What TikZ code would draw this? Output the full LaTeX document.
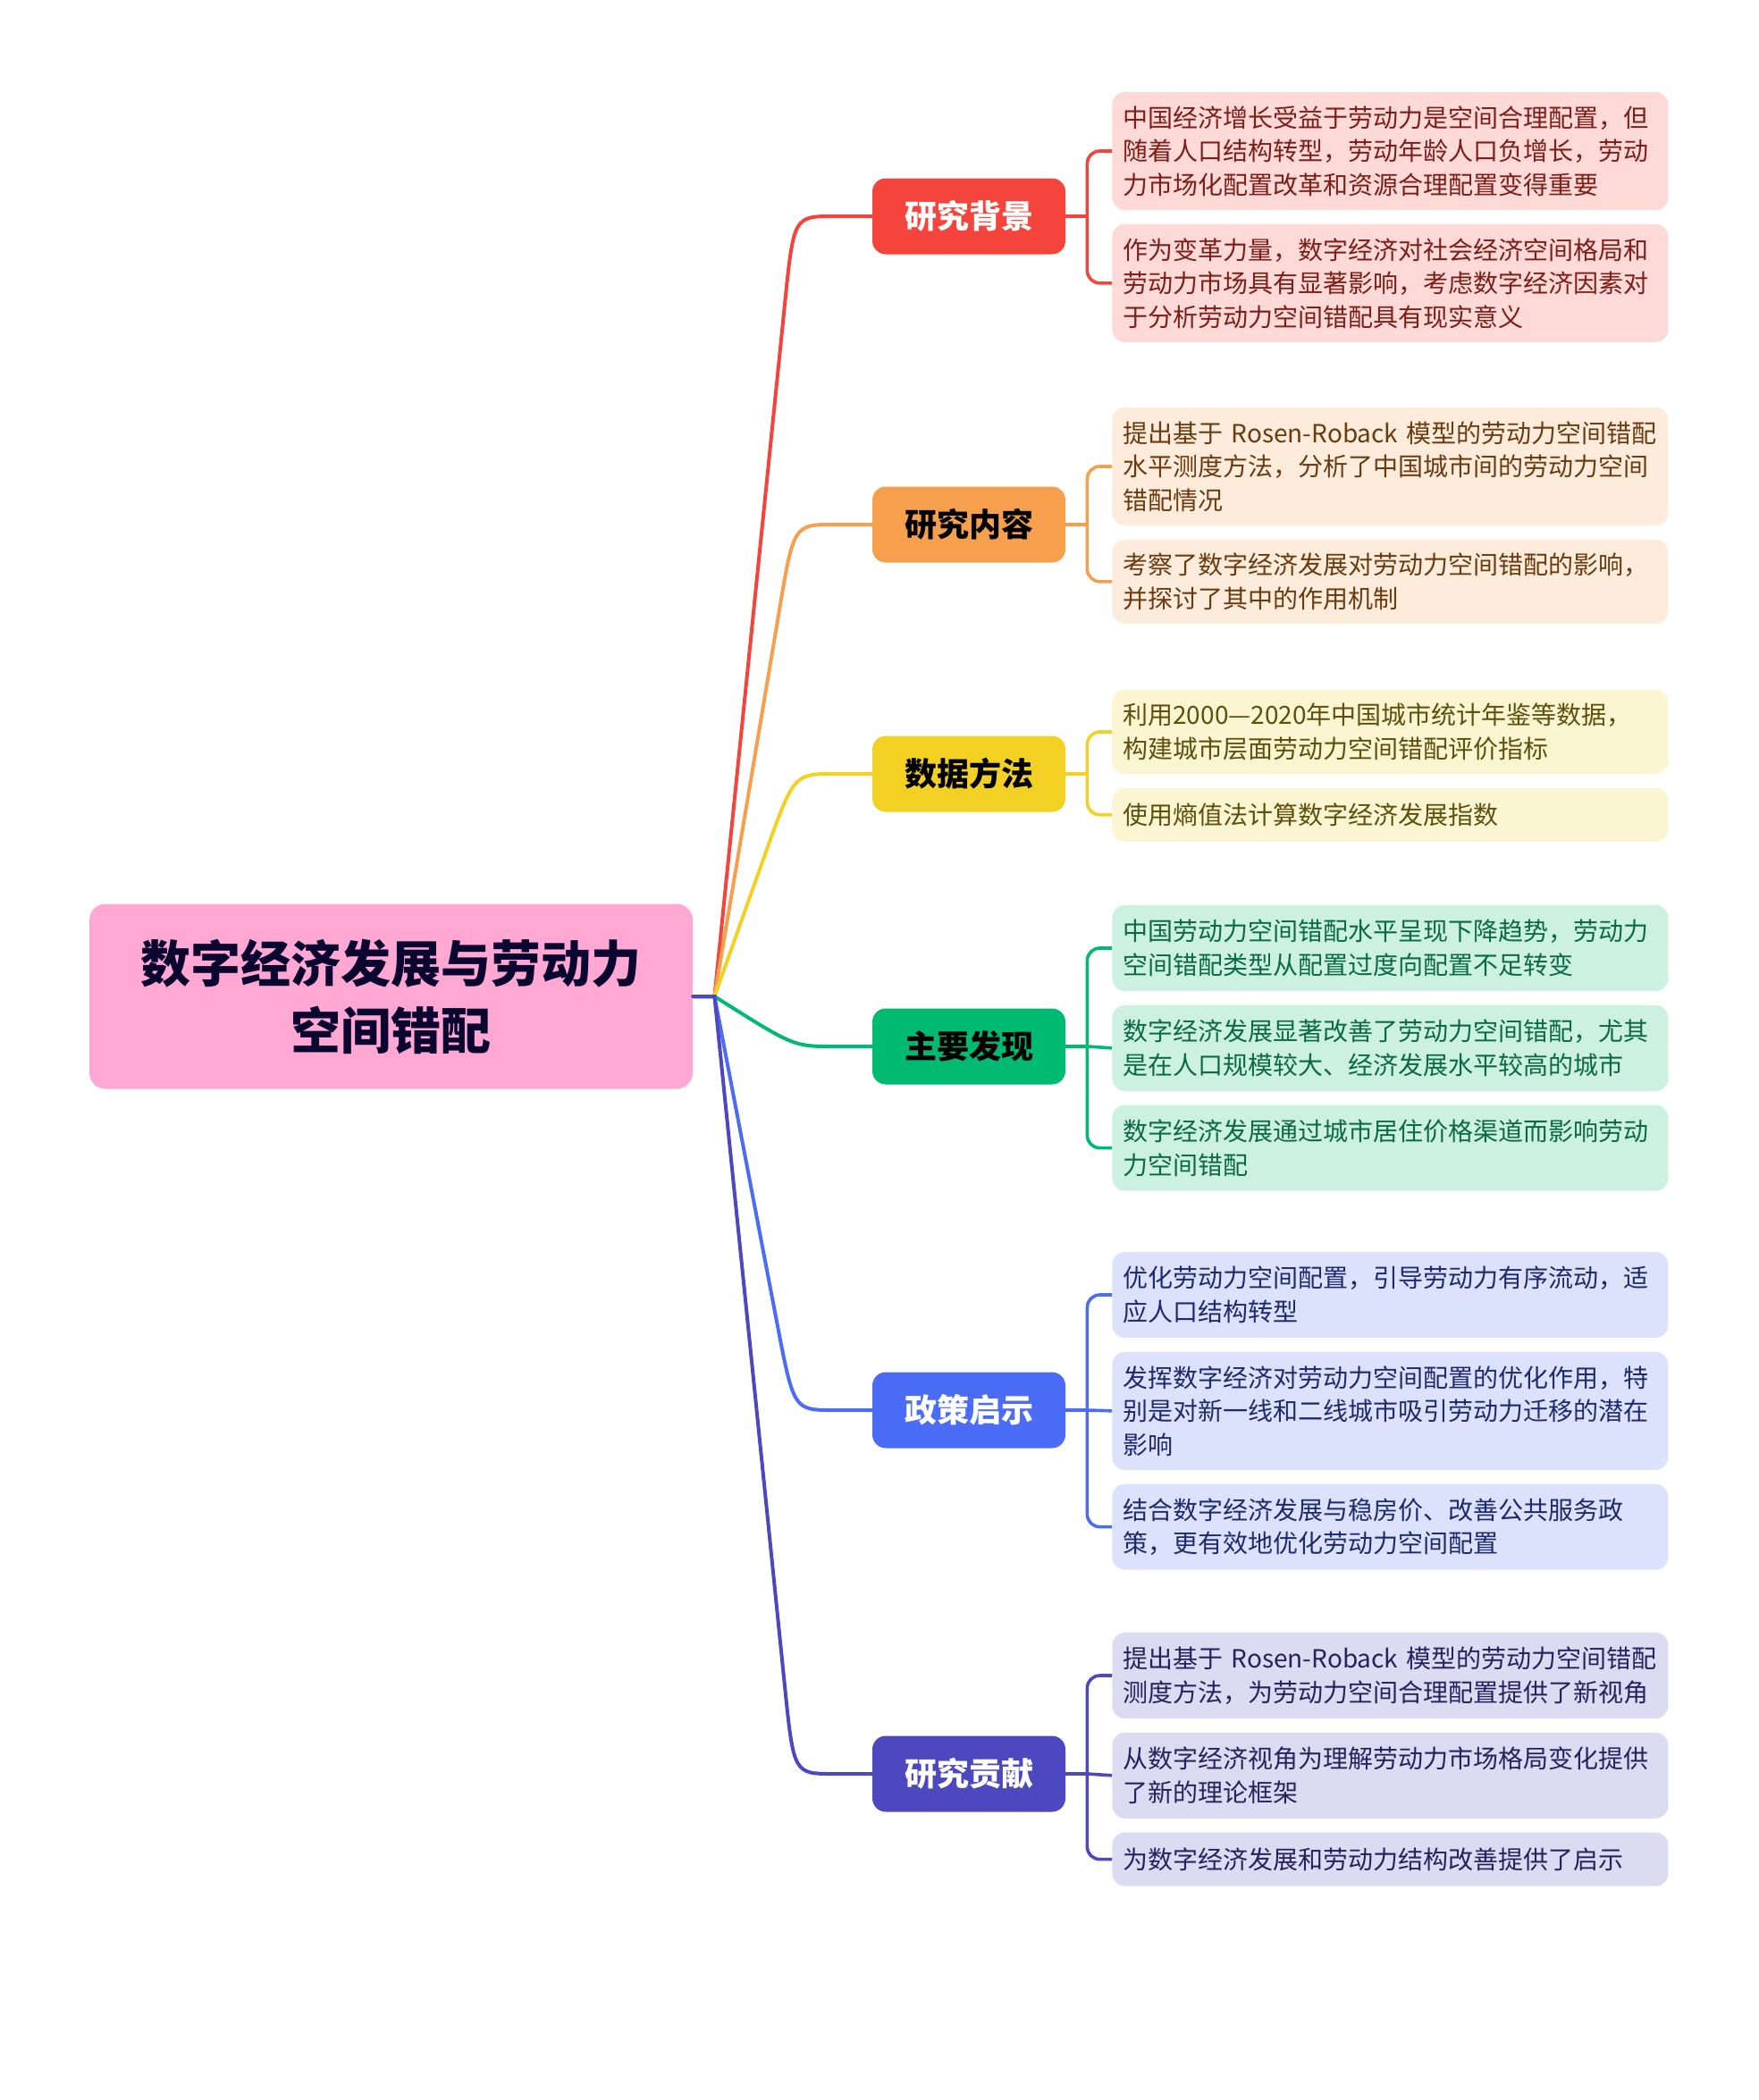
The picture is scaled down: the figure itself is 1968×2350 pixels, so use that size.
\documentclass[tikz,border=0pt]{standalone}
\usepackage{fontspec}
\setmainfont{Noto Sans CJK SC}
\usetikzlibrary{positioning, calc}
\definecolor{cRoot}{RGB}{255,168,211}
\definecolor{cRootText}{RGB}{11,6,48}
\definecolor{cRed}{RGB}{245,68,59}
\definecolor{cRedLeaf}{RGB}{253,217,215}
\definecolor{cRedText}{RGB}{125,30,24}
\definecolor{cOrange}{RGB}{246,160,77}
\definecolor{cOrangeLeaf}{RGB}{253,235,220}
\definecolor{cOrangeText}{RGB}{107,59,15}
\definecolor{cYellow}{RGB}{242,209,36}
\definecolor{cYellowLeaf}{RGB}{252,245,210}
\definecolor{cYellowText}{RGB}{94,79,12}
\definecolor{cGreen}{RGB}{0,186,114}
\definecolor{cGreenLeaf}{RGB}{204,241,226}
\definecolor{cGreenText}{RGB}{11,106,69}
\definecolor{cBlue}{RGB}{74,108,247}
\definecolor{cBlueLeaf}{RGB}{220,226,252}
\definecolor{cBlueText}{RGB}{30,42,110}
\definecolor{cIndigo}{RGB}{78,72,192}
\definecolor{cIndigoLeaf}{RGB}{220,219,241}
\definecolor{cIndigoText}{RGB}{37,34,94}
\tikzset{
	rootbox/.style={rectangle, rounded corners=9pt, fill=cRoot, text=cRootText, align=center, minimum width=337.5pt, minimum height=103.5pt, font=\fontsize{28pt}{37.5pt}\selectfont\bfseries},
	branchbox/.style={rectangle, rounded corners=7.5pt, minimum width=108pt, minimum height=42.5pt, text centered, font=\fontsize{18pt}{22pt}\selectfont\bfseries},
	leafbox/.style={rectangle, rounded corners=7pt, text width=299pt, inner xsep=6pt, inner ysep=5pt, align=left, font=\fontsize{14pt}{18.75pt}\selectfont},
	trunk/.style={line width=2pt, line cap=round},
	twig/.style={line width=1.8pt, rounded corners=7pt},
}
\begin{document}
\begin{tikzpicture}[x=0.5pt, y=-0.5pt]
	\useasboundingbox (0,0) rectangle (1968,2350);
	% centre topic
	\node[rootbox] (root) at (437.5,1115) {数字经济发展与劳动力\\空间错配};
	\coordinate (j) at ($(root.east)+(24,0)$);
	\coordinate (cx) at (888,0);
	% main topics
	\node[branchbox, fill=cRed, text=white] (bg) at (1084,242) {研究背景};
	\node[branchbox, fill=cOrange, text=black] (nr) at (1084,587) {研究内容};
	\node[branchbox, fill=cYellow, text=black] (sj) at (1084,866) {数据方法};
	\node[branchbox, fill=cGreen, text=black] (fx) at (1084,1171) {主要发现};
	\node[branchbox, fill=cBlue, text=white] (zc) at (1084,1578) {政策启示};
	\node[branchbox, fill=cIndigo, text=white] (gx) at (1084,1985) {研究贡献};
	% subtopics
	\node[leafbox, fill=cRedLeaf, text=cRedText, minimum height=66pt, anchor=west] (bg1) at (1244,169) {中国经济增长受益于劳动力是空间合理配置，但\\随着人口结构转型，劳动年龄人口负增长，劳动\\力市场化配置改革和资源合理配置变得重要};
	\node[leafbox, fill=cRedLeaf, text=cRedText, minimum height=66pt, below=7.5pt of bg1] (bg2) {作为变革力量，数字经济对社会经济空间格局和\\劳动力市场具有显著影响，考虑数字经济因素对\\于分析劳动力空间错配具有现实意义};
	\node[leafbox, fill=cOrangeLeaf, text=cOrangeText, minimum height=66pt, anchor=west] (nr1) at (1244,522) {提出基于~Rosen-Roback~模型的劳动力空间错配\\水平测度方法，分析了中国城市间的劳动力空间\\错配情况};
	\node[leafbox, fill=cOrangeLeaf, text=cOrangeText, minimum height=47pt, below=7.5pt of nr1] (nr2) {考察了数字经济发展对劳动力空间错配的影响，\\并探讨了其中的作用机制};
	\node[leafbox, fill=cYellowLeaf, text=cYellowText, minimum height=47pt, anchor=west] (sj1) at (1244,819) {利用2000—2020年中国城市统计年鉴等数据，\\构建城市层面劳动力空间错配评价指标};
	\node[leafbox, fill=cYellowLeaf, text=cYellowText, minimum height=30pt, below=7.5pt of sj1] (sj2) {使用熵值法计算数字经济发展指数};
	\node[leafbox, fill=cGreenLeaf, text=cGreenText, minimum height=48pt, anchor=west] (fx1) at (1244,1061) {中国劳动力空间错配水平呈现下降趋势，劳动力\\空间错配类型从配置过度向配置不足转变};
	\node[leafbox, fill=cGreenLeaf, text=cGreenText, minimum height=48pt, below=7.5pt of fx1] (fx2) {数字经济发展显著改善了劳动力空间错配，尤其\\是在人口规模较大、经济发展水平较高的城市};
	\node[leafbox, fill=cGreenLeaf, text=cGreenText, minimum height=48pt, below=7.5pt of fx2] (fx3) {数字经济发展通过城市居住价格渠道而影响劳动\\力空间错配};
	\node[leafbox, fill=cBlueLeaf, text=cBlueText, minimum height=48pt, anchor=west] (zc1) at (1244,1449) {优化劳动力空间配置，引导劳动力有序流动，适\\应人口结构转型};
	\node[leafbox, fill=cBlueLeaf, text=cBlueText, minimum height=66pt, below=7.5pt of zc1] (zc2) {发挥数字经济对劳动力空间配置的优化作用，特\\别是对新一线和二线城市吸引劳动力迁移的潜在\\影响};
	\node[leafbox, fill=cBlueLeaf, text=cBlueText, minimum height=48pt, below=7.5pt of zc2] (zc3) {结合数字经济发展与稳房价、改善公共服务政\\策，更有效地优化劳动力空间配置};
	\node[leafbox, fill=cIndigoLeaf, text=cIndigoText, minimum height=48pt, anchor=west] (gx1) at (1244,1875) {提出基于~Rosen-Roback~模型的劳动力空间错配\\测度方法，为劳动力空间合理配置提供了新视角};
	\node[leafbox, fill=cIndigoLeaf, text=cIndigoText, minimum height=48pt, below=7.5pt of gx1] (gx2) {从数字经济视角为理解劳动力市场格局变化提供\\了新的理论框架};
	\node[leafbox, fill=cIndigoLeaf, text=cIndigoText, minimum height=30pt, below=7.5pt of gx2] (gx3) {为数字经济发展和劳动力结构改善提供了启示};
	% trunk lines from the centre topic
	\foreach \b/\col in {bg/cRed, nr/cOrange, sj/cYellow, fx/cGreen, zc/cBlue, gx/cIndigo}{
		\draw[trunk, draw=\col] (root.east) -- (j) -- ($(cx |- \b.west)!50pt!(j)$) .. controls (cx |- \b.west) .. ($(cx |- \b.west)+(45,0)$) -- (\b.west);
		\draw[twig, draw=\col] (\b.east) -- ++(24,0) coordinate (\b-x);
	}
	% brackets to the subtopics
	\draw[twig, draw=cRed] (bg1.west) -| (bg-x) |- (bg2.west);
	\draw[twig, draw=cOrange] (nr1.west) -| (nr-x) |- (nr2.west);
	\draw[twig, draw=cYellow] (sj1.west) -| (sj-x) |- (sj2.west);
	\draw[twig, draw=cGreen] (fx1.west) -| (fx-x) |- (fx3.west);
	\draw[twig, draw=cGreen] (fx-x) -- (fx2.west);
	\draw[twig, draw=cBlue] (zc1.west) -| (zc-x) |- (zc3.west);
	\draw[twig, draw=cBlue] (zc-x) -- (zc2.west);
	\draw[twig, draw=cIndigo] (gx1.west) -| (gx-x) |- (gx3.west);
	\draw[twig, draw=cIndigo] (gx-x) -- (gx2.west);
\end{tikzpicture}
\end{document}
